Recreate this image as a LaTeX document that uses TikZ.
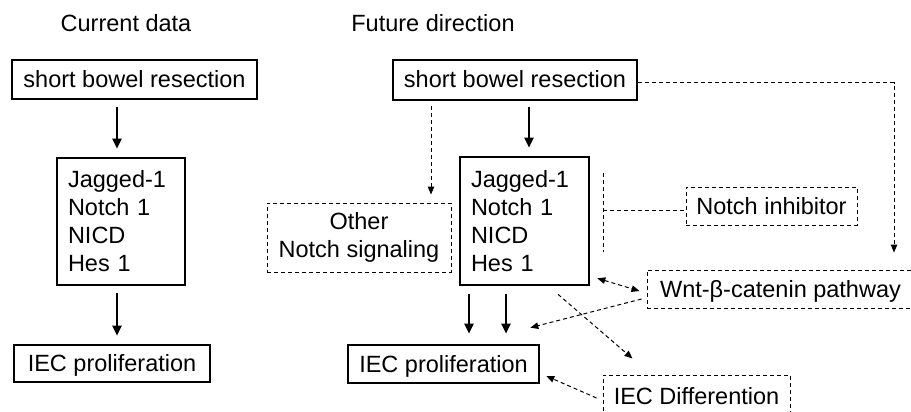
\documentclass[tikz,border=0pt]{standalone}
\usepackage{fontspec}
\setmainfont{Liberation Sans}
\usetikzlibrary{arrows.meta,calc}
\tikzset{
  txt/.style={font=\fontsize{23.5}{28}\selectfont},
  sbox/.style={txt, draw, line width=2.6pt, inner sep=0pt},
  dbox/.style={txt, draw, line width=1pt, dash pattern=on 4pt off 3pt, inner sep=0pt},
  oneline/.style={text height=16pt, text depth=0pt},
  sarrow/.style={line width=2.2pt, -{Triangle[length=10pt,width=9pt]}},
  darrow/.style={line width=1pt, dash pattern=on 4pt off 3pt, -{Triangle[length=8pt,width=6.5pt]}},
  darrows/.style={line width=1pt, dash pattern=on 4pt off 3pt, {Triangle[length=8pt,width=6.5pt]}-{Triangle[length=8pt,width=6.5pt]}},
  dline/.style={line width=1pt, dash pattern=on 4pt off 3pt},
}
\begin{document}
\begin{tikzpicture}[x=1pt,y=-1pt]
\useasboundingbox (0,0) rectangle (911,412);
\clip (0,0) rectangle (911,412);

% titles
\node[txt, anchor=base] (tA) at (126,32) {Current data};
\node[txt, anchor=base] (tB) at (433,32) {Future direction};

% left column
\node[sbox, oneline, minimum width=245pt, minimum height=39pt] (sbrA) at (134.5,79.5) {short bowel resection};
\node[sbox, align=left, text width=106pt, inner xsep=11pt, minimum height=127pt] (jagA) at (121,221.5) {Jagged-1\\Notch 1\\NICD\\Hes 1};
\node[sbox, oneline, minimum width=196pt, minimum height=37pt] (iecA) at (112,363.5) {IEC proliferation};

\draw[sarrow, shorten <=7pt, shorten >=8pt] ([xshift=-4pt]jagA.north |- sbrA.south) -- ([xshift=-4pt]jagA.north);
\draw[sarrow, shorten <=7pt, shorten >=8pt] ([xshift=-4pt]jagA.south) -- ([xshift=-4pt]jagA.south |- iecA.north);

% right column
\node[sbox, oneline, minimum width=244pt, minimum height=40pt] (sbrB) at (515,80) {short bowel resection};
\node[sbox, align=left, text width=107pt, inner xsep=11pt, minimum height=128pt] (jagB) at (524.5,221) {Jagged-1\\Notch 1\\NICD\\Hes 1};
\node[dbox, align=center, minimum width=184pt, minimum height=69pt] (othB) at (359,237.5) {Other\\Notch signaling};
\node[dbox, oneline, minimum width=171pt, minimum height=38pt] (inhB) at (771.5,206) {Notch inhibitor};
\node[dbox, oneline, minimum width=267pt, minimum height=38pt] (wntB) at (780.5,289) {Wnt-β-catenin pathway};
\node[sbox, oneline, minimum width=191pt, minimum height=38pt] (iecB) at (443.5,364) {IEC proliferation};
\node[dbox, oneline, minimum width=187pt, minimum height=42pt] (difB) at (696.5,396) {IEC Differention};

% inhibitor bar
\coordinate (barT) at (603,173);
\coordinate (barB) at (603,252);

% connectors
\draw[sarrow, shorten <=6pt, shorten >=8pt] ([xshift=4.5pt]jagB.north |- sbrB.south) -- ([xshift=4.5pt]jagB.north);
\draw[darrow, shorten <=5pt, shorten >=8pt] ([xshift=72pt]othB.north |- sbrB.south) -- ([xshift=72pt]othB.north);
\draw[dline] (barT) -- (barB);
\draw[dline] (barT |- inhB.west) ++(0,4) -- ([yshift=-4pt]inhB.west);
\draw[darrow, shorten >=17pt] ([yshift=-3pt]sbrB.east) -| ([xshift=113.5pt]wntB.north);
\draw[darrows] ([xshift=7pt,yshift=8pt]jagB.south east) -- ([xshift=-7pt,yshift=-2pt]wntB.west);
\draw[darrow] ([xshift=-5pt,yshift=-10pt]wntB.west) -- ([xshift=-10pt,yshift=16pt]iecB.north east);
\draw[sarrow, shorten <=8pt, shorten >=10pt] ([xshift=-55.5pt]jagB.south) -- ([xshift=-55.5pt]jagB.south |- iecB.north);
\draw[sarrow, shorten <=8pt, shorten >=10pt] ([xshift=-18.5pt]jagB.south) -- ([xshift=-18.5pt]jagB.south |- iecB.north);
\draw[darrow] ([xshift=33.5pt,yshift=-8pt]jagB.south) -- ([xshift=30pt,yshift=16pt]difB.north west);
\draw[darrow] ([xshift=-6pt,yshift=-2pt]difB.west) -- ([xshift=6pt,yshift=-12pt]iecB.east);
\end{tikzpicture}
\end{document}
